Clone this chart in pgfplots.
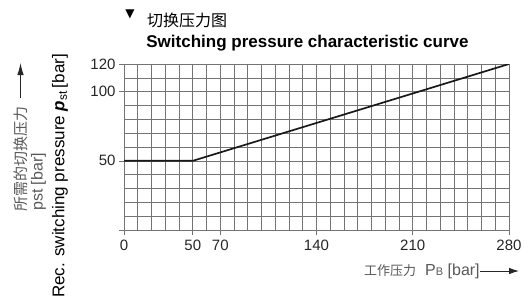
\documentclass[border=0pt]{standalone}
\usepackage{fontspec}
\setmainfont{Liberation Sans}
\newfontfamily\cjk{Noto Sans CJK SC}
\newfontfamily\dejavu{DejaVu Sans}
\usepackage{pgfplots}
\pgfplotsset{compat=1.18}
\usetikzlibrary{arrows.meta}
\begin{document}
\begin{tikzpicture}[x=1pt,y=1pt]
\useasboundingbox (0,0) rectangle (524,306);
\begin{axis}[
  at={(124pt,76pt)}, anchor=south west,
  scale only axis, width=385pt, height=166pt,
  xmin=0, xmax=280, ymin=0, ymax=120,
  xtick={0,50,70,140,210,280},
  ytick={0,50,100,120}, yticklabels={,50,100,120},
  minor xtick={10,20,...,270},
  minor ytick={10,20,...,110},
  grid=both,
  grid style={black!55, line width=0.6pt},
  minor grid style={black!55, line width=0.6pt},
  major grid style={black!55, line width=0.6pt},
  axis line style={black!55, line width=0.6pt},
  every tick/.style={black!55, line width=0.6pt},
  tick align=outside,
  major tick length=5pt, minor tick length=0pt,
  xtick pos=bottom, ytick pos=left,
  /pgf/number format/assume math mode=true,
  ticklabel style={font=\fontsize{15}{17}\selectfont, text=black!85},
  yticklabel style={xshift=0pt},
  xticklabel style={yshift=-1pt},
]
\addplot[black!90, line width=1.7pt] coordinates {(0,50) (50,50) (280,120)};
\end{axis}
\node[anchor=center, inner sep=0, font=\dejavu\fontsize{12}{12}\selectfont] at (130,291.5) {▼};
\node[anchor=west, inner sep=0, font=\cjk\fontsize{16}{18}\selectfont] at (147,286) {切换压力图};
\node[inner sep=0, font=\bfseries\fontsize{17}{20}\selectfont] at (307.5,263) {Switching pressure characteristic curve};
\node[rotate=90, anchor=west, inner sep=0, text=black!65, font=\cjk\fontsize{15}{17}\selectfont] (l1) at (21,94) {所需的切换压力};
\draw[black!85, line width=0.9pt, -{Latex[length=12pt,width=6.5pt]}] (20.5,208) -- (20.5,243);
\node[rotate=90, anchor=west, inner sep=0, text=black!65, font=\fontsize{16}{18}\selectfont] at (38.5,95) {pst [bar]};
\node[rotate=90, anchor=center, inner sep=0, font=\fontsize{17}{20}\selectfont] at (60,130) {Rec. switching pressure \textbf{\textit{p}}\textsubscript{st}\,[bar]};
\node[anchor=west, inner sep=0, text=black!65, font=\fontsize{16}{18}\selectfont] (xl) at (364,35) {{\cjk\fontsize{13}{15}\selectfont 工作压力}\hspace{9pt}P{\fontsize{11}{11}\selectfont B} [bar]};
\draw[black!85, line width=0.9pt, -{Latex[length=10pt,width=6.5pt]}] (xl.east) -- (519,35);
\end{tikzpicture}
\end{document}
